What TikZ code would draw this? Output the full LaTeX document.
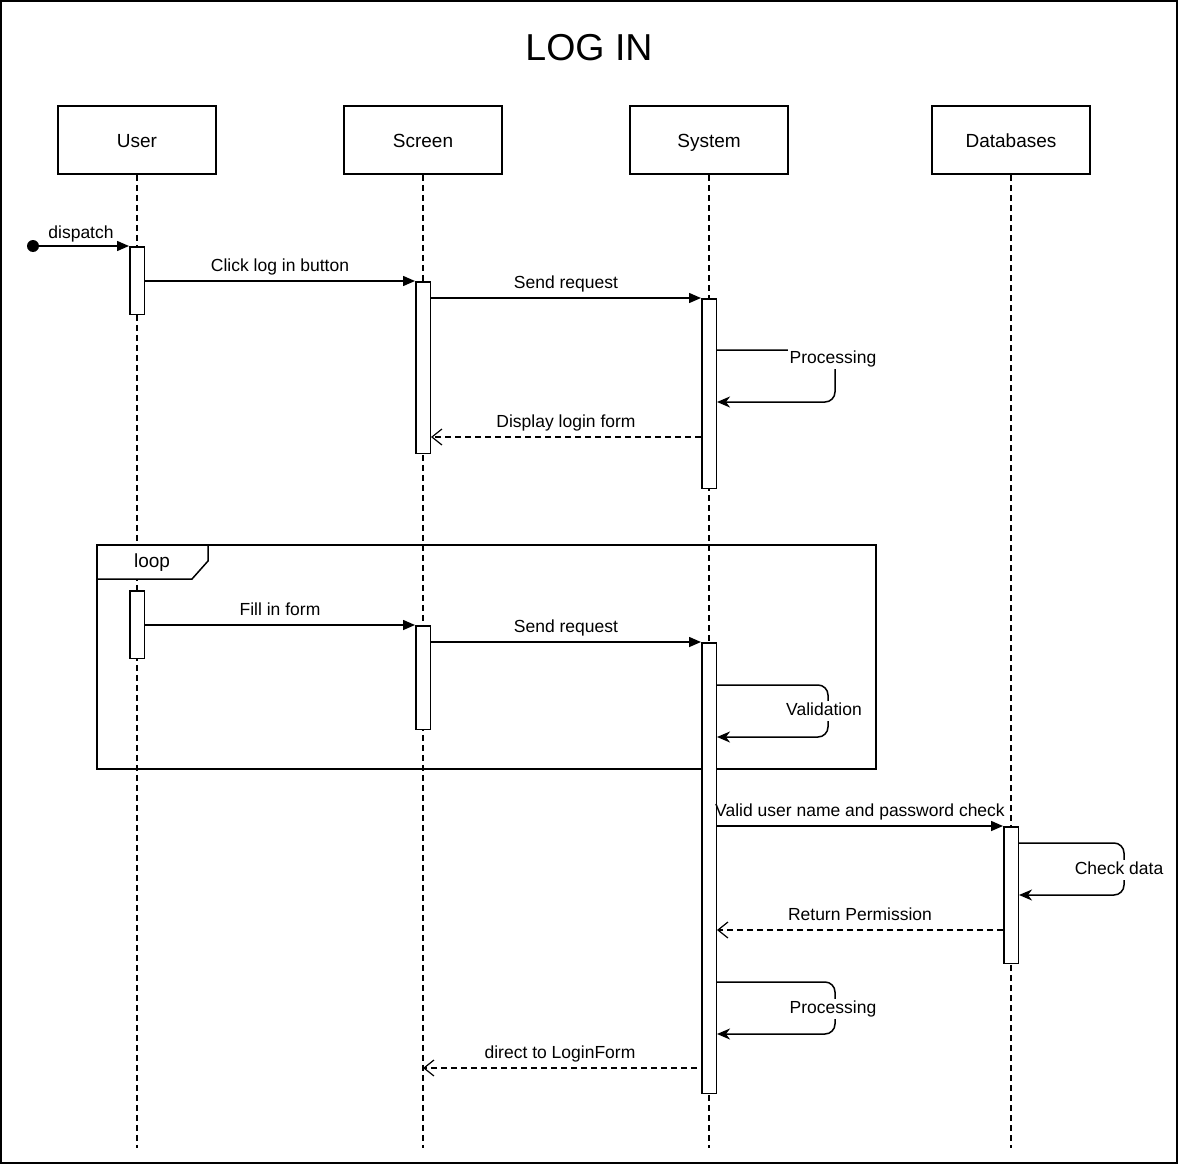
\documentclass[tikz,border=0pt]{standalone}
\usepackage{fontspec}
\setmainfont{Liberation Sans}
\usetikzlibrary{arrows.meta, positioning}

\begin{document}
\begin{tikzpicture}[x=1pt, y=-1pt, line width=1.5pt,
    every node/.style={font=\fontsize{17.5}{21}\selectfont},
    lifehead/.style={draw, minimum width=158pt, minimum height=68pt,
        font=\fontsize{19}{23}\selectfont, text height=15pt, text depth=1pt},
    lifeline/.style={line width=1.4pt, dash pattern=on 6pt off 4pt},
    actbar/.style={draw, fill=white, minimum width=14.5pt, inner sep=0pt},
    msg/.style={-{Triangle[length=12pt, width=10pt]}},
    reply/.style={line width=1.2pt, dash pattern=on 6pt off 4pt,
        -{Straight Barb[length=10pt, width=16pt, line width=1.2pt]}},
    selfmsg/.style={rounded corners=10pt, -{Stealth[length=13pt, width=11pt, inset=4pt]}},
    msglabel/.style={above=3pt, midway, inner sep=2pt, text height=12.5pt, text depth=3.7pt},
    selflabel/.style={fill=white, inner sep=2pt, text height=12.5pt, text depth=3.7pt}]

    \useasboundingbox (0,0) rectangle (1178,1164);
    \draw (1,1) rectangle (1177,1163);

    \node[font=\fontsize{37.5}{45}\selectfont] (title) at (589,48) {LOG IN};

    % lifelines
    \node[lifehead] (user) at (137,140) {User};
    \node[lifehead] (screen) at (423,140) {Screen};
    \node[lifehead] (system) at (709,140) {System};
    \node[lifehead] (db) at (1011,140) {Databases};
    \foreach \obj in {user, screen, system, db}
        \draw[lifeline] (\obj.south) -- (\obj.south |- 0,1148);

    % loop frame
    \draw (97,545) rectangle (876,769);
    \draw[fill=white] (97,545) -- (97,579) -- (192,579) -- (208,561) -- (208,545) -- cycle;
    \node[font=\fontsize{19}{23}\selectfont] (looplbl) at (152,563) {loop};

    % activation bars
    \node[actbar, minimum height=67.5pt] (u1) at (137,280.5) {};
    \node[actbar, minimum height=171.5pt] (s1) at (423,367.5) {};
    \node[actbar, minimum height=189.5pt] (sy1) at (709,393.5) {};
    \node[actbar, minimum height=67.5pt] (u2) at (137,624.5) {};
    \node[actbar, minimum height=103.5pt] (s2) at (423,677.5) {};
    \node[actbar, minimum height=450.5pt] (sy2) at (709,868) {};
    \node[actbar, minimum height=136.5pt] (d1) at (1011,895) {};

    % messages
    \coordinate (start) at (33,246);
    \fill (start) circle (6);
    \draw[msg] (start) -- (u1.north west) node[msglabel, above=1pt] {dispatch};
    \draw[msg] (u1.east |- s1.north) -- (s1.north west) node[msglabel] {Click log in button};
    \draw[msg] (s1.east |- sy1.north) -- (sy1.north west) node[msglabel] {Send request};
    \draw[selfmsg] (sy1.east |- 0,350) -- (835,350) -- (835,402) -- (sy1.east |- 0,402);
    \node[selflabel] (proc1) at (833,359) {Processing};
    \draw[reply] (sy1.west |- 0,437) -- (s1.east |- 0,437) node[msglabel] {Display login form};

    \draw[msg] (u2.east |- s2.north) -- (s2.north west) node[msglabel] {Fill in form};
    \draw[msg] (s2.east |- sy2.north) -- (sy2.north west) node[msglabel] {Send request};
    \draw[selfmsg] (sy2.east |- 0,685) -- (828,685) -- (828,737) -- (sy2.east |- 0,737);
    \node[selflabel] (valid) at (824,711) {Validation};

    \draw[msg] (sy2.east |- d1.north) -- (d1.north west) node[msglabel] {Valid user name and password check};
    \draw[selfmsg] (d1.east |- 0,843) -- (1124,843) -- (1124,895) -- (d1.east |- 0,895);
    \node[selflabel] (check) at (1119,870) {Check data};
    \draw[reply] (d1.west |- 0,930) -- (sy2.east |- 0,930) node[msglabel] {Return Permission};

    \draw[selfmsg] (sy2.east |- 0,982) -- (835,982) -- (835,1034) -- (sy2.east |- 0,1034);
    \node[selflabel] (proc2) at (833,1009) {Processing};
    \draw[reply] (697,1068) -- (screen |- 0,1068) node[msglabel] {direct to LoginForm};
\end{tikzpicture}
\end{document}
